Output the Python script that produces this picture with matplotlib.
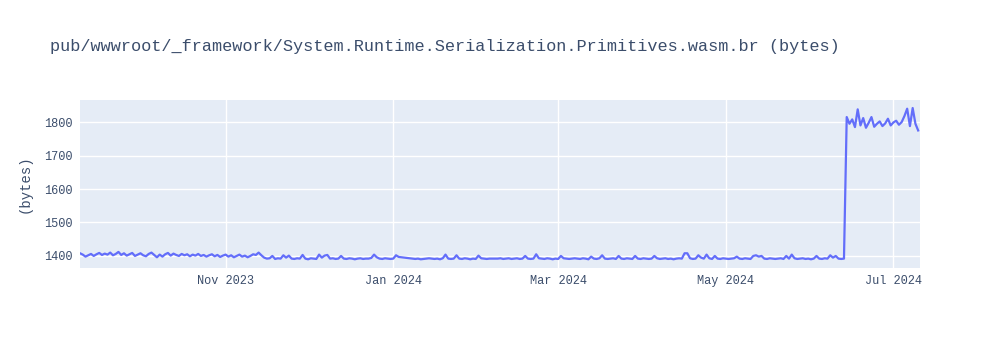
import pandas as pd
import matplotlib
matplotlib.use("Agg")
import matplotlib.pyplot as plt
import matplotlib.dates as mdates

# Daily size values
start_date = "2023-09-09"

# Sep - mid Nov 2023: noisy band around 1400
early_sizes = [
    1408, 1404, 1398, 1402, 1406, 1400, 1405, 1409, 1403, 1407,
    1404, 1410, 1402, 1406, 1412, 1403, 1408, 1401, 1405, 1409,
    1400, 1404, 1408, 1402, 1399, 1406, 1410, 1403, 1396, 1404,
    1398, 1405, 1409, 1401, 1407, 1403, 1400, 1406, 1402, 1405,
    1399, 1404, 1401, 1406, 1400, 1403, 1398, 1402, 1405, 1399,
    1403, 1397, 1401, 1404, 1398, 1402, 1396, 1400, 1404, 1398,
    1401, 1396, 1400, 1405, 1403, 1410, 1402, 1395,
]

# mid Nov 2023 - mid Jun 2024: flat ~1392 with small spikes
middle_sizes = [
    1392, 1393, 1400, 1391, 1393, 1392, 1402, 1395, 1401, 1392,
    1391, 1393, 1392, 1403, 1392, 1390, 1393, 1392, 1391, 1404,
    1395, 1401, 1403, 1392, 1393, 1391, 1392, 1400, 1392, 1391,
    1393, 1392, 1390, 1392, 1393, 1391, 1392, 1392, 1394, 1404,
    1396, 1392, 1391, 1393, 1392, 1391, 1392, 1402, 1397, 1396,
    1395, 1394, 1393, 1392, 1391, 1392, 1390, 1391, 1392, 1393,
    1392, 1391, 1392, 1390, 1393, 1404, 1392, 1391, 1392, 1402,
    1392, 1391, 1393, 1392, 1390, 1392, 1391, 1401, 1393, 1392,
    1391, 1392, 1392, 1392, 1392, 1393, 1391, 1392, 1393, 1391,
    1392, 1393, 1391, 1392, 1400, 1392, 1391, 1392, 1405, 1393,
    1392, 1391, 1393, 1392, 1390, 1392, 1391, 1400, 1393, 1392,
    1391, 1392, 1393, 1392, 1391, 1393, 1392, 1390, 1398, 1392,
    1391, 1393, 1402, 1392, 1391, 1392, 1393, 1391, 1400, 1392,
    1391, 1393, 1392, 1391, 1400, 1392, 1391, 1393, 1392, 1391,
    1392, 1400, 1393, 1391, 1392, 1393, 1391, 1392, 1390, 1392,
    1393, 1392, 1408, 1408, 1393, 1391, 1392, 1402, 1395, 1392,
    1404, 1393, 1391, 1400, 1392, 1391, 1393, 1392, 1391, 1392,
    1393, 1398, 1392, 1391, 1393, 1392, 1391, 1400, 1402, 1398,
    1400, 1392, 1391, 1393, 1392, 1391, 1392, 1393, 1391, 1400,
    1392, 1404, 1393, 1391, 1392, 1393, 1391, 1392, 1390, 1392,
    1400, 1392, 1391, 1393, 1392, 1402, 1395, 1400, 1392, 1391,
    1392,
]

# mid Jun 2024 onwards: jump to ~1790
late_sizes = [
    1815, 1795, 1808, 1785, 1838, 1790, 1812, 1783, 1798, 1815,
    1786, 1795, 1802, 1788, 1796, 1810, 1790, 1799, 1804, 1792,
    1800, 1818, 1840, 1788, 1842, 1795, 1775,
]

sizes = early_sizes + middle_sizes + late_sizes
dates = pd.date_range(start_date, periods=len(sizes), freq="D")

title = "pub/wwwroot/_framework/System.Runtime.Serialization.Primitives.wasm.br (bytes)"
y_label = "(bytes)"
y_ticks = [1400, 1500, 1600, 1700, 1800]

text_color = "#3b4d6b"
plt.rcParams["font.family"] = ["Liberation Mono", "DejaVu Sans Mono"]

fig = plt.figure(figsize=(10, 3.5), dpi=100)
ax = fig.add_axes([0.08, 0.2343, 0.84, 0.48])
ax.set_facecolor("#E5ECF6")

ax.plot(dates, sizes, color="#636EFA", linewidth=1.6, zorder=3)

ax.set_xlim(dates[0], dates[-1] + pd.Timedelta(hours=16))
ax.set_ylim(1364, 1866)
ax.set_yticks(y_ticks)
ax.xaxis.set_major_locator(mdates.MonthLocator(bymonth=[1, 3, 5, 7, 9, 11]))
ax.xaxis.set_major_formatter(mdates.DateFormatter("%b %Y"))

ax.grid(True, color="white", linewidth=1, zorder=1)
ax.set_axisbelow(True)
for spine in ax.spines.values():
    spine.set_visible(False)
ax.tick_params(axis="both", length=0, labelsize=8.6, labelcolor=text_color)
ax.tick_params(axis="x", pad=5)
ax.tick_params(axis="y", pad=5)

ax.set_ylabel(y_label, fontsize=10, color=text_color, labelpad=9)
fig.text(0.05, 0.868, title, fontsize=12.2, color=text_color, va="center", ha="left")

fig.savefig("out.png", dpi=100)
